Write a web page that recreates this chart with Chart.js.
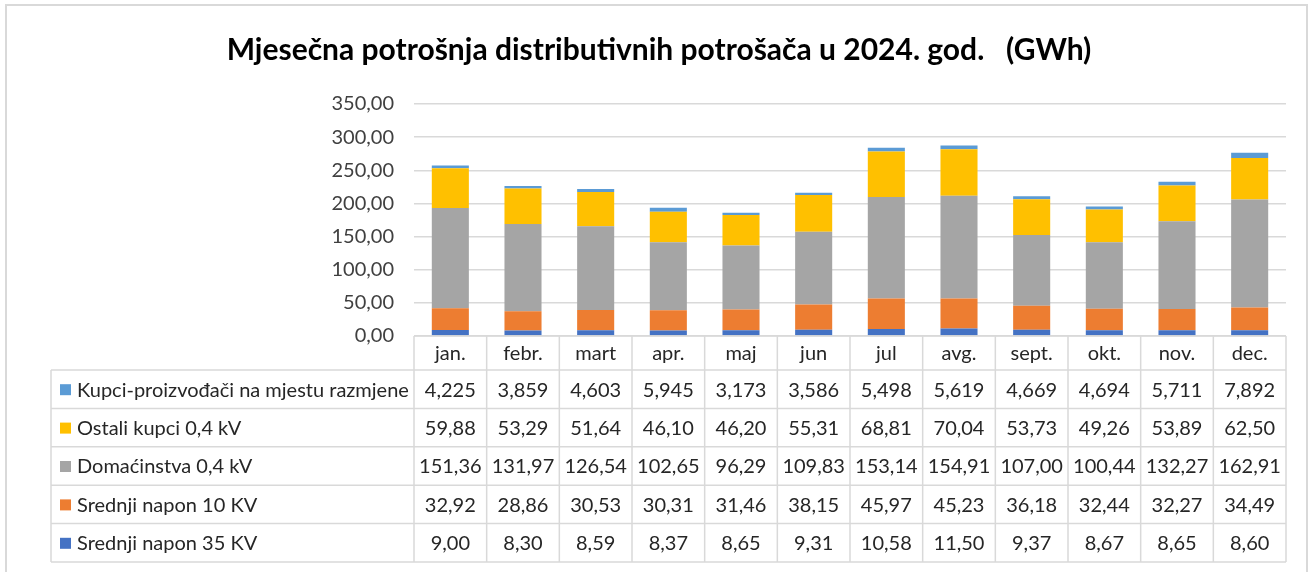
<!DOCTYPE html>
<html>
<head>
<meta charset="utf-8">
<script src="https://cdn.jsdelivr.net/npm/chart.js@4"></script>
<style>
    html, body { margin: 0; padding: 0; background: #fff; }
    #wrap { width: 1315px; height: 572px; }
</style>
</head>
<body>
<div id="wrap"><canvas id="chart" width="1315" height="572"></canvas></div>
<script>
const months = ['jan.', 'febr.', 'mart', 'apr.', 'maj', 'jun', 'jul', 'avg.', 'sept.', 'okt.', 'nov.', 'dec.'];

// series, bottom of the stack first
const napon35 = [9.00, 8.30, 8.59, 8.37, 8.65, 9.31, 10.58, 11.50, 9.37, 8.67, 8.65, 8.60];
const napon10 = [32.92, 28.86, 30.53, 30.31, 31.46, 38.15, 45.97, 45.23, 36.18, 32.44, 32.27, 34.49];
const domacinstva = [151.36, 131.97, 126.54, 102.65, 96.29, 109.83, 153.14, 154.91, 107.00, 100.44, 132.27, 162.91];
const ostaliKupci = [59.88, 53.29, 51.64, 46.10, 46.20, 55.31, 68.81, 70.04, 53.73, 49.26, 53.89, 62.50];
const kupciProizvodjaci = [4.225, 3.859, 4.603, 5.945, 3.173, 3.586, 5.498, 5.619, 4.669, 4.694, 5.711, 7.892];

const yTicks = [0, 50, 100, 150, 200, 250, 300, 350];

const TITLE = 'Mjesečna potrošnja distributivnih potrošača u 2024. god.   (GWh)';
const FONT = "Lato, 'Open Sans', sans-serif";
const TEXT = '#262626';
const GRID = '#D9D9D9';
const BODY_SIZE = 20;

const series = [
    { label: 'Srednji napon 35 KV', data: napon35, color: '#4472C4', decimals: 2 },
    { label: 'Srednji napon 10 KV', data: napon10, color: '#ED7D31', decimals: 2 },
    { label: 'Domaćinstva 0,4 kV', data: domacinstva, color: '#A5A5A5', decimals: 2 },
    { label: 'Ostali kupci 0,4 kV', data: ostaliKupci, color: '#FFC000', decimals: 2 },
    { label: 'Kupci-proizvođači na mjestu razmjene', data: kupciProizvodjaci, color: '#5B9BD5', decimals: 3 }
];

function fmt(v, d) {
    return v.toFixed(d).replace('.', ',');
}

// frame round the whole chart plus the title (centred on the frame, not the plot)
const framePlugin = {
    id: 'frame',
    beforeDraw(chart) {
        const ctx = chart.ctx;
        ctx.save();
        ctx.fillStyle = '#fff';
        ctx.fillRect(0, 0, chart.width, chart.height);
        ctx.strokeStyle = GRID;
        ctx.lineWidth = 2;
        ctx.strokeRect(6, 5, 1301, 620);

        ctx.fillStyle = '#000';
        ctx.font = 'bold 30px ' + FONT;
        ctx.textAlign = 'center';
        ctx.textBaseline = 'middle';
        ctx.fillText(TITLE, 659, 50);
        ctx.restore();
    }
};

// data table under the plot, columns follow the x scale
const tablePlugin = {
    id: 'dataTable',
    afterDraw(chart) {
        const ctx = chart.ctx;
        const x = chart.scales.x;
        const area = chart.chartArea;
        const colW = (area.right - area.left) / months.length;
        const left = 51;
        const headerH = 34;
        const rowH = 38.4;
        const top = area.bottom;
        const rows = series.slice().reverse();
        const bottom = top + headerH + rows.length * rowH;

        ctx.save();
        ctx.strokeStyle = GRID;
        ctx.lineWidth = 1.5;

        // horizontal lines
        ctx.beginPath();
        ctx.moveTo(area.left, top);
        ctx.lineTo(area.right, top);
        for (let r = 0; r <= rows.length; r++) {
            const y = top + headerH + r * rowH;
            ctx.moveTo(left, y);
            ctx.lineTo(area.right, y);
        }
        // vertical lines
        ctx.moveTo(left, top + headerH);
        ctx.lineTo(left, bottom);
        for (let i = 0; i <= months.length; i++) {
            const cx = area.left + i * colW;
            ctx.moveTo(cx, top);
            ctx.lineTo(cx, bottom);
        }
        ctx.stroke();

        ctx.fillStyle = TEXT;
        ctx.font = BODY_SIZE + 'px ' + FONT;
        ctx.textAlign = 'center';
        ctx.textBaseline = 'middle';
        months.forEach((m, i) => {
            ctx.fillText(m, x.getPixelForValue(i), top + headerH / 2 + 1);
        });

        rows.forEach((s, r) => {
            const cy = top + headerH + r * rowH + rowH / 2 + 1;
            ctx.fillStyle = s.color;
            ctx.fillRect(left + 9, cy - 6, 11, 11);
            ctx.fillStyle = TEXT;
            ctx.textAlign = 'left';
            ctx.fillText(s.label, left + 26, cy);
            ctx.textAlign = 'center';
            s.data.forEach((v, i) => {
                ctx.fillText(fmt(v, s.decimals), x.getPixelForValue(i), cy);
            });
        });
        ctx.restore();
    }
};

new Chart(document.getElementById('chart'), {
    type: 'bar',
    data: {
        labels: months,
        datasets: series.map(s => ({
            label: s.label,
            data: s.data,
            backgroundColor: s.color,
            borderWidth: 0,
            barPercentage: 0.51,
            categoryPercentage: 1
        }))
    },
    options: {
        responsive: false,
        animation: false,
        devicePixelRatio: 1,
        layout: {
            padding: { top: 104, left: 0, right: 29, bottom: 236 }
        },
        plugins: {
            legend: { display: false },
            tooltip: { enabled: false },
            title: { display: false }
        },
        scales: {
            x: {
                stacked: true,
                display: false
            },
            y: {
                stacked: true,
                min: 0,
                max: 350,
                afterBuildTicks(scale) {
                    scale.ticks = yTicks.map(v => ({ value: v }));
                },
                afterFit(scale) {
                    scale.width = 414;
                },
                border: { display: false },
                grid: {
                    color: GRID,
                    lineWidth: 1.5,
                    drawTicks: false
                },
                ticks: {
                    padding: 20,
                    color: '#404040',
                    font: { family: FONT, size: BODY_SIZE },
                    callback: v => fmt(v, 2)
                }
            }
        }
    },
    plugins: [framePlugin, tablePlugin]
});
</script>
</body>
</html>
